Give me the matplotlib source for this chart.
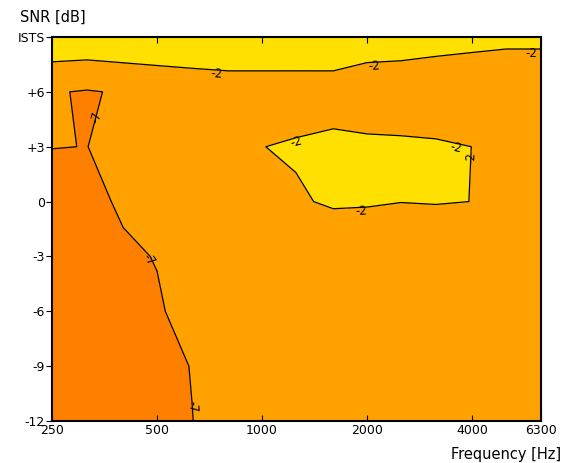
import numpy as np
import matplotlib
matplotlib.use("Agg")
import matplotlib.pyplot as plt
import matplotlib.transforms as mtransforms

# third-octave bands (Hz) and SNR rows (dB, top row = ISTS)
freqs = [250, 315, 400, 500, 630, 800, 1000, 1250, 1600, 2000, 2500, 3150, 4000, 5000, 6300]
snr = [-12, -9, -6, -3, 0, 3, 6, 9]

# map values, one list per SNR row
z_m12 = [-12, -11, -10, -9, -7.1, -4, -4, -4, -4, -4, -4, -4, -4, -4, -4]
z_m9 = [-12, -11, -10, -9, -6.8, -4.5, -4.5, -4.5, -4.5, -4.5, -4.5, -4.5, -4.5, -4.5, -4.5]
z_m6 = [-11.5, -10.5, -9.5, -7.77, -4.5, -4.5, -4.5, -4.5, -4.5, -4.5, -4.5, -4.5, -4.5, -4.5, -4.5]
z_m3 = [-11, -10, -8.11, -6.72, -5, -4.5, -4.5, -4.5, -4, -3.8, -4.9, -3.8, -4, -4.5, -4.5]
z_0 = [-10, -9.03, -6, -5, -4.5, -4, -3.5, -2.27, -1.7, -1.8, -1.95, -1.9, -2.01, -3, -3.5]
z_p3 = [-6.88, -7.05, -5.4, -4.5, -4, -3.5, -2.03, -1.76, -1.0, -1.2, -1.4, -1.6, -2.01, -3, -3.2]
z_p6 = [-6.69, -7.3, -6.6, -6, -5.5, -5, -4.5, -3.23, -4.06, -4.63, -4.4, -4.4, -3.5, -3.5, -3.5]
z_ists = [1.88, 1.79, 2.08, 2.33, 2.64, 2.83, 2.03, -0.02, 1.32, 0.30, -0.17, -0.69, -1.41, -1.58, -1.58]

xtick_freqs = [250, 500, 1000, 2000, 4000, 6300]
ytick_labels = ['-12', '-9', '-6', '-3', '0', '+3', '+6', 'ISTS']

Z = np.array([z_m12, z_m9, z_m6, z_m3, z_0, z_p3, z_p6, z_ists])
X = np.log2(np.array(freqs, dtype=float))
Y = np.array(snr, dtype=float)

fig = plt.figure(figsize=(5.67, 4.63), dpi=100)
ax = fig.add_axes([52/567, 42/463, 489/567, 384/463])

ax.contourf(X, Y, Z, levels=[-20, -7, -2, 10],
            colors=['#FF8000', '#FFA200', '#FFE000'])
cs = ax.contour(X, Y, Z, levels=[-7, -2], colors='black',
                linewidths=0.9, linestyles='solid')

# label spots (log2 Hz, dB)
lab_pos = [(np.log2(740), 7.1), (np.log2(2100), 7.5), (np.log2(5900), 8.3),
           (np.log2(1250), 3.5), (np.log2(3600), 3.2), (np.log2(4150), 2.6),
           (np.log2(1920), -0.4),
           (np.log2(340), 4.8), (np.log2(470), -3.0), (np.log2(630), -11.0)]
labels = ax.clabel(cs, fmt='%d', fontsize=8.5, inline=False, colors='black', manual=lab_pos)
# nudge labels a bit off the line so the minus sign stays visible
shift = mtransforms.ScaledTranslation(0, -3/72, fig.dpi_scale_trans)
for t in labels:
    t.set_transform(t.get_transform() + shift)

ax.set_xlim(X[0], X[-1])
ax.set_ylim(-12, 9)
ax.set_xticks(np.log2(xtick_freqs))
ax.set_xticklabels([str(f) for f in xtick_freqs])
ax.set_yticks(snr)
ax.set_yticklabels(ytick_labels)
ax.tick_params(axis='x', direction='in', top=True, length=4, labelsize=9, pad=2)
ax.tick_params(axis='y', direction='out', length=4, labelsize=9, pad=1)
for s in ax.spines.values():
    s.set_linewidth(1.5)

fig.text(561/567, 1 - 455/463, 'Frequency [Hz]', ha='right', va='center', fontsize=10.5)
fig.text(20/567, 1 - 17/463, 'SNR [dB]', ha='left', va='center', fontsize=10.5)

fig.savefig('out.png', dpi=100)
